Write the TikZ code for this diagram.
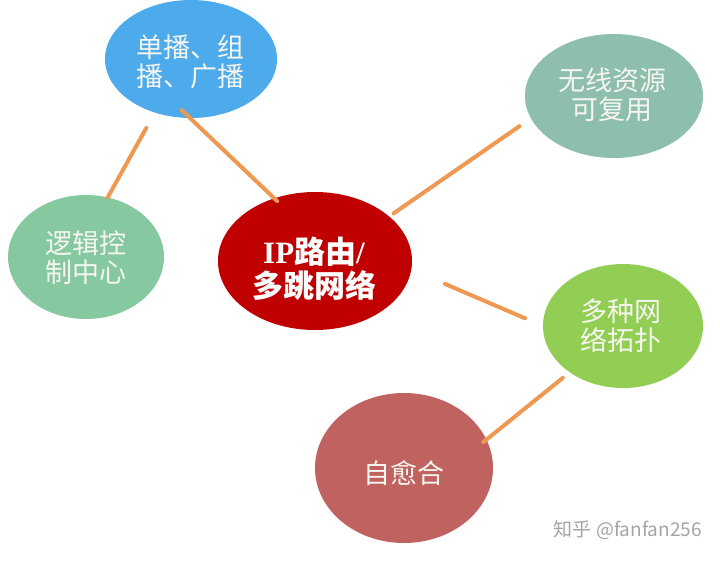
\documentclass[tikz,border=0pt]{standalone}
\usepackage{fontspec}
\setmainfont{Liberation Serif}
\newfontfamily\cjk{Noto Sans CJK SC}
\usetikzlibrary{shapes.geometric}
\definecolor{cblue}{RGB}{77,170,235}
\definecolor{cteal}{RGB}{141,190,174}
\definecolor{cmint}{RGB}{134,200,160}
\definecolor{cred}{RGB}{192,0,0}
\definecolor{clime}{RGB}{146,206,84}
\definecolor{crose}{RGB}{192,98,96}
\definecolor{corange}{RGB}{238,152,82}
\definecolor{ctext}{RGB}{246,246,240}
\definecolor{cmark}{RGB}{165,165,165}
\begin{document}
\begin{tikzpicture}[x=1pt,y=-1pt,
  bubble/.style={ellipse, draw=none, inner sep=0pt, outer sep=0pt},
  btext/.style={text=ctext, align=center, inner sep=0pt,
    font=\cjk\fontsize{27}{29}\selectfont},
  link/.style={draw=corange, line width=4pt, line cap=round}]
\useasboundingbox (0,0) rectangle (720,560);
\fill[white] (0,0) rectangle (720,560);
% bubbles
\node[bubble, fill=cblue, minimum width=172pt, minimum height=118pt] (uni) at (191,59) {};
\node[bubble, fill=cteal, minimum width=178pt, minimum height=124pt] (reuse) at (614,96) {};
\node[bubble, fill=cmint, minimum width=156pt, minimum height=124pt] (ctrl) at (86,257) {};
\node[bubble, fill=cred, minimum width=194pt, minimum height=138pt] (ctr) at (315,261) {};
\node[bubble, fill=clime, minimum width=160pt, minimum height=124pt] (topo) at (623,326) {};
\node[bubble, fill=crose, minimum width=178pt, minimum height=150pt] (heal) at (404,468) {};
% texts
\node[btext] (unit) at (190,62) {单播、组\\播、广播};
\node[btext] (reuset) at (612,95) {无线资源\\可复用};
\node[btext] (ctrlt) at (86,258) {逻辑控\\制中心};
\node[btext] (topot) at (621,326) {多种网\\络拓扑};
\node[btext] (healt) at (404,473) {自愈合};
\node[btext, text=white, font=\bfseries\fontsize{31}{34}\selectfont] (ctrt) at (314,268.5)
  {IP{\cjk 路由}/\\{\cjk 多跳网络}};
% connectors
\draw[link, shorten <=-11.5pt, shorten >=-4pt] (uni.269.3) -- (ctr.123.6);
\draw[link, shorten <=17.5pt] (uni.236.8) -- (ctrl.70.7);
\draw[link, shorten <=5.4pt, shorten >=13.8pt] (ctr.31.4) -- (reuse.195.75);
\draw[link, shorten <=36.7pt, shorten >=19.6pt] (ctr.355.7) -- (topo.180);
\draw[link, shorten <=9pt, shorten >=-4pt] (topo.221.2) -- (heal.19.6);
% watermark
\node[anchor=east, text=cmark, inner sep=0pt, font=\cjk\fontsize{19}{20}\selectfont] (wm) at (702,530) {知乎 @fanfan256};
\end{tikzpicture}
\end{document}
